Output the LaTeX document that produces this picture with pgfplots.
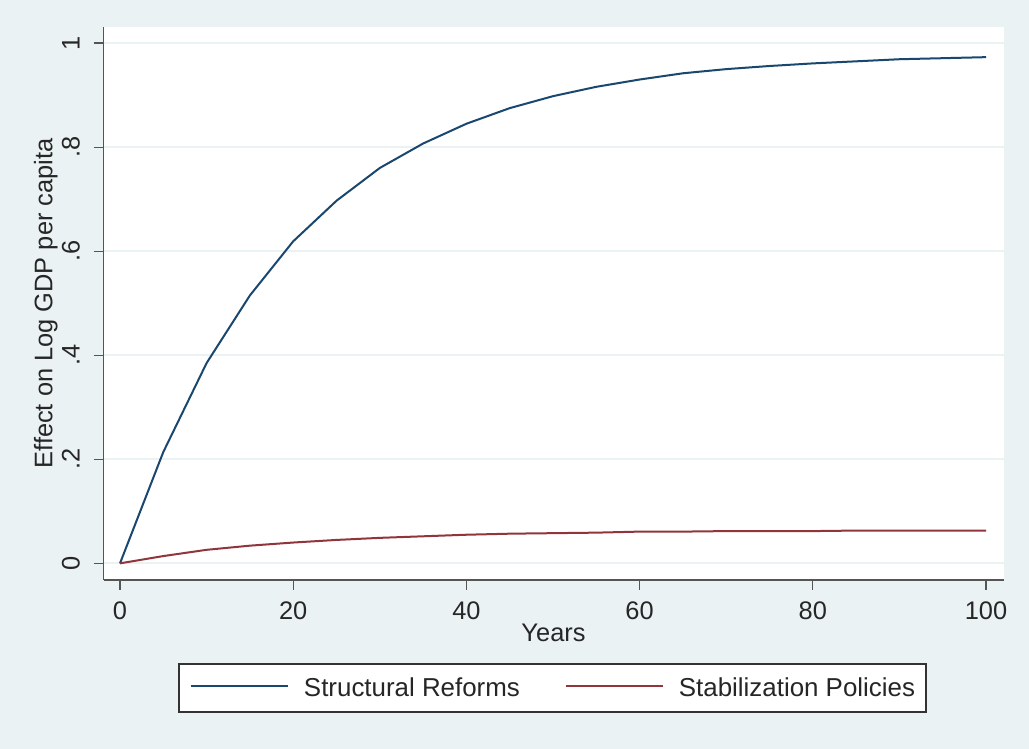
\documentclass[border=0pt]{standalone}
\usepackage{fontspec}
\setmainfont{Liberation Sans}
\usepackage{pgfplots}
\pgfplotsset{compat=1.18}
\definecolor{bgcol}{HTML}{EAF2F3}
\definecolor{gridcol}{HTML}{EAF2F3}
\definecolor{navy}{HTML}{1A476F}
\definecolor{maroon}{HTML}{90353B}
\definecolor{axcol}{HTML}{555555}
\begin{document}
\begin{tikzpicture}[x=1bp,y=1bp]
\fill[bgcol] (0,0) rectangle (1029,749);
\begin{axis}[
 at={(103.5bp,169bp)}, anchor=south west,
 width=900bp, height=553bp, scale only axis,
 xmin=-1.905, xmax=102.02, ymin=-0.032, ymax=1.031,
 axis x line*=bottom, axis y line*=left,
 axis line style={draw=axcol, line width=1.3bp, -},
 axis background/.style={fill=white},
 xtick={0,20,40,60,80,100}, ytick={0,0.2,0.4,0.6,0.8,1},
 yticklabels={0,.2,.4,.6,.8,1},
 minor tick num=0,
 tick align=outside, major tick length=10bp,
 tick style={draw=axcol, line width=1.3bp},
 ymajorgrids, major grid style={draw=gridcol, line width=2bp},
 /pgf/number format/assume math mode=true,
 tick label style={font=\fontsize{25.5}{30}\selectfont, text=black!85},
 xticklabel style={anchor=base, inner sep=0pt, yshift=-30bp},
 yticklabel style={rotate=90, anchor=base, inner sep=0pt, yshift=14bp},
 label style={font=\fontsize{25.5}{30}\selectfont, text=black!85},
 xlabel={Years},
 xlabel style={at={(axis description cs:0.5,-0.1121)}, anchor=base, inner sep=0pt},
 ylabel={Effect on Log GDP per capita},
 ylabel style={at={(axis description cs:-0.0567,0.5)}, anchor=base, inner sep=0pt},
 legend style={at={(0.4989,-0.1953)}, anchor=center, legend columns=2,
   draw=black!80, line width=1.3bp, fill=white,
   font=\fontsize{26}{30}\selectfont, text=black!85,
   inner xsep=11bp, inner ysep=14bp, nodes={inner sep=0pt},
   /tikz/every odd column/.append style={column sep=15bp},
   /tikz/every even column/.append style={column sep=45bp}},
 legend image code/.code={\draw[#1, line width=2bp] (0bp,2bp) -- (97bp,2bp);},
]
\addplot[navy, line width=2bp] coordinates {
(0,0) (5,0.214) (10,0.385) (15,0.515) (20,0.619) (25,0.697) (30,0.760)
(35,0.807) (40,0.845) (45,0.875) (50,0.898) (55,0.916) (60,0.930)
(65,0.942) (70,0.950) (75,0.956) (80,0.961) (85,0.965) (90,0.969)
(95,0.971) (100,0.973)};
\addlegendentry{Structural Reforms}
\addplot[maroon, line width=2bp] coordinates {
(0,0) (5,0.014) (10,0.026) (15,0.034) (20,0.040) (25,0.045) (30,0.049)
(35,0.052) (40,0.055) (45,0.057) (50,0.058) (55,0.059) (60,0.061)
(65,0.061) (70,0.062) (75,0.062) (80,0.062) (85,0.063) (90,0.063)
(95,0.063) (100,0.063)};
\addlegendentry{Stabilization Policies}
\end{axis}
\pgfresetboundingbox
\useasboundingbox (0,0) rectangle (1029,749);
\end{tikzpicture}
\end{document}
